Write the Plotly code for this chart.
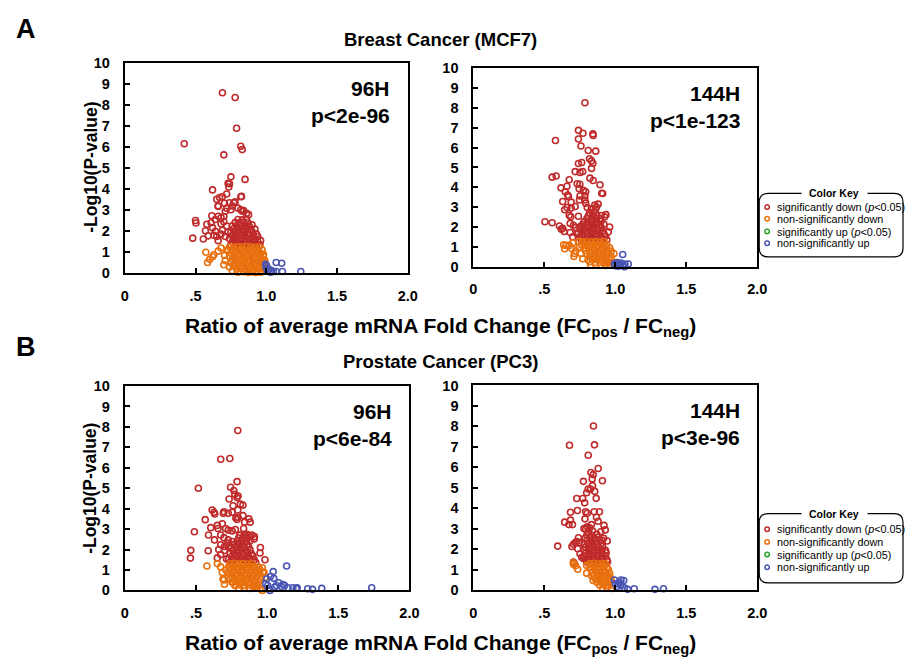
import plotly.graph_objects as go

W, H = 914, 667
FONT = "Liberation Sans, Arial, sans-serif"

# ---------------- data (x = ratio FCpos/FCneg, y = -log10 p) ----------------
A96_sig_down = [
    (0.42, 6.17), (0.69, 8.60), (0.78, 8.37), (0.79, 6.91), (0.82, 6.05), (0.83, 5.89), (0.70, 5.64),
    (0.75, 4.59), (0.85, 4.47), (0.73, 4.28), (0.735, 4.11), (0.74, 4.26), (0.62, 3.97), (0.82, 3.64),
    (0.825, 3.66), (0.72, 3.77), (0.65, 3.52), (0.67, 3.61), (0.69, 3.64), (0.77, 3.36), (0.78, 3.40),
    (0.74, 3.36), (0.705, 3.33), (0.66, 3.18), (0.66, 3.21), (0.82, 3.02), (0.84, 2.98), (0.83, 2.95),
    (0.71, 2.95), (0.75, 3.02), (0.875, 2.79), (0.615, 2.74), (0.66, 2.71), (0.50, 2.51), (0.503, 2.39),
    (0.58, 2.33), (0.61, 2.40), (0.64, 2.56), (0.68, 2.64), (0.48, 1.67), (0.555, 1.63), (0.59, 1.78),
    (0.63, 1.81), (0.65, 1.75), (0.68, 1.86), (0.57, 2.02), (0.62, 2.17), (0.77, 1.63), (0.91, 1.63),
    (0.93, 1.86), (0.92, 1.47), (0.70, 2.45), (0.72, 2.25), (0.69, 2.05), (0.71, 1.75), (0.66, 1.55),
    (0.73, 1.95), (0.68, 2.35), (0.64, 2.00), (0.70, 2.70), (0.72, 3.10), (0.76, 3.20), (0.80, 3.10),
    (0.86, 2.85), (0.90, 2.30), (0.92, 2.10), (0.94, 1.75), (0.96, 1.55),
    (0.75, 1.35), (0.78, 1.33), (0.81, 1.36), (0.84, 1.34), (0.87, 1.37), (0.90, 1.33), (0.93, 1.36),
    (0.955, 1.35), (0.76, 1.50), (0.79, 1.48), (0.82, 1.52), (0.85, 1.49), (0.88, 1.51), (0.91, 1.48),
    (0.94, 1.50), (0.74, 1.64), (0.77, 1.66), (0.80, 1.63), (0.83, 1.67), (0.86, 1.64), (0.89, 1.66),
    (0.92, 1.63), (0.76, 1.80), (0.79, 1.78), (0.82, 1.81), (0.85, 1.79), (0.88, 1.82), (0.91, 1.80),
    (0.75, 1.95), (0.78, 1.97), (0.81, 1.94), (0.84, 1.96), (0.87, 1.93), (0.90, 1.97), (0.77, 2.11),
    (0.80, 2.09), (0.83, 2.12), (0.86, 2.10), (0.89, 2.08), (0.76, 2.26), (0.79, 2.24), (0.82, 2.27),
    (0.85, 2.25), (0.88, 2.23), (0.78, 2.41), (0.81, 2.39), (0.84, 2.42), (0.87, 2.40), (0.80, 2.56),
    (0.83, 2.54), (0.86, 2.57),
]
A96_ns_down = [
    (0.573, 1.00), (0.585, 0.51), (0.62, 0.78), (0.60, 0.66), (0.63, 0.88), (0.70, 0.40), (0.705, 0.85),
    (0.82, 0.08), (0.89, 0.08), (0.66, 1.05), (0.68, 1.20), (0.72, 1.10), (0.71, 0.60), (0.74, 0.30),
    (0.76, 0.12), (0.98, 0.90), (0.99, 0.60), (0.97, 0.25), (0.93, 0.03),
    (0.74, 1.25), (0.77, 1.23), (0.80, 1.26), (0.83, 1.24), (0.86, 1.27), (0.89, 1.25), (0.92, 1.23),
    (0.95, 1.26), (0.73, 1.10), (0.76, 1.12), (0.79, 1.09), (0.82, 1.11), (0.85, 1.08), (0.88, 1.12),
    (0.91, 1.10), (0.94, 1.09), (0.97, 1.11), (0.75, 0.95), (0.78, 0.97), (0.81, 0.94), (0.84, 0.96),
    (0.87, 0.93), (0.90, 0.97), (0.93, 0.95), (0.96, 0.94), (0.74, 0.80), (0.77, 0.78), (0.80, 0.81),
    (0.83, 0.79), (0.86, 0.82), (0.89, 0.80), (0.92, 0.78), (0.95, 0.81), (0.98, 0.79), (0.76, 0.65),
    (0.79, 0.67), (0.82, 0.64), (0.85, 0.66), (0.88, 0.63), (0.91, 0.67), (0.94, 0.65), (0.97, 0.64),
    (0.75, 0.50), (0.78, 0.48), (0.81, 0.51), (0.84, 0.49), (0.87, 0.52), (0.90, 0.50), (0.93, 0.48),
    (0.96, 0.51), (0.985, 0.49), (0.77, 0.35), (0.80, 0.37), (0.83, 0.34), (0.86, 0.36), (0.89, 0.33),
    (0.92, 0.37), (0.95, 0.35), (0.98, 0.34), (0.79, 0.20), (0.82, 0.22), (0.85, 0.19), (0.88, 0.21),
    (0.91, 0.18), (0.94, 0.22), (0.97, 0.20), (0.80, 0.05), (0.84, 0.07), (0.87, 0.04), (0.90, 0.06),
    (0.93, 0.08), (0.96, 0.05),
]
A96_sig_up = []
A96_ns_up = [
    (0.995, 0.42), (1.002, 0.36), (1.019, 0.19), (1.037, 0.12), (1.07, 0.51), (1.109, 0.47), (1.07, 0.08),
    (1.114, 0.08), (1.244, 0.08), (1.01, 0.10), (1.03, 0.05), (1.05, 0.08), (1.00, 0.25),
]

A144_sig_down = [
    (0.786, 8.26), (0.74, 6.87), (0.772, 6.72), (0.842, 6.69), (0.844, 6.61), (0.578, 6.36), (0.74, 6.43),
    (0.758, 6.08), (0.809, 5.85), (0.862, 5.82), (0.818, 5.44), (0.832, 5.33), (0.842, 5.21), (0.74, 5.20),
    (0.763, 5.25), (0.717, 4.79), (0.751, 4.75), (0.77, 4.79), (0.832, 4.95), (0.555, 4.51), (0.583, 4.57),
    (0.675, 4.38), (0.821, 4.46), (0.731, 4.18), (0.75, 4.15), (0.844, 4.34), (0.617, 3.97), (0.659, 4.05),
    (0.647, 3.77), (0.892, 4.13), (0.745, 3.93), (0.775, 3.85), (0.791, 3.77), (0.904, 3.70), (0.911, 3.69),
    (0.664, 3.61), (0.67, 3.52), (0.751, 3.56), (0.786, 3.57), (0.747, 3.36), (0.629, 3.28), (0.689, 3.25),
    (0.659, 2.98), (0.786, 3.36), (0.791, 3.20), (0.802, 2.98), (0.855, 3.10), (0.879, 3.15), (0.867, 3.00),
    (0.643, 2.87), (0.689, 2.95), (0.717, 3.03), (0.675, 2.59), (0.686, 2.51), (0.74, 2.54), (0.934, 2.62),
    (0.925, 2.51), (0.504, 2.26), (0.555, 2.21), (0.606, 2.05), (0.62, 1.89), (0.64, 1.77), (0.629, 1.93),
    (0.682, 2.18), (0.705, 2.08), (0.682, 1.72), (0.721, 1.97), (0.758, 2.05), (0.728, 1.67), (0.70, 1.50),
    (0.95, 1.75), (0.96, 2.00),
    (0.76, 1.38), (0.79, 1.35), (0.82, 1.37), (0.85, 1.34), (0.88, 1.36), (0.91, 1.39), (0.94, 1.35),
    (0.75, 1.52), (0.78, 1.50), (0.81, 1.53), (0.84, 1.49), (0.87, 1.52), (0.90, 1.50), (0.93, 1.53),
    (0.74, 1.67), (0.77, 1.65), (0.80, 1.68), (0.83, 1.66), (0.86, 1.64), (0.89, 1.67), (0.92, 1.65),
    (0.76, 1.82), (0.79, 1.80), (0.82, 1.83), (0.85, 1.81), (0.88, 1.84), (0.91, 1.80), (0.75, 1.97),
    (0.78, 1.95), (0.81, 1.98), (0.84, 1.96), (0.87, 1.94), (0.90, 1.98), (0.77, 2.12), (0.80, 2.10),
    (0.83, 2.13), (0.86, 2.11), (0.89, 2.09), (0.92, 2.14), (0.78, 2.27), (0.81, 2.25), (0.84, 2.28),
    (0.87, 2.26), (0.90, 2.30), (0.80, 2.42), (0.83, 2.40), (0.86, 2.44), (0.89, 2.41), (0.81, 2.57),
    (0.84, 2.55), (0.87, 2.60), (0.90, 2.58), (0.82, 2.72), (0.85, 2.75), (0.83, 2.90), (0.86, 2.88),
]
A144_ns_down = [
    (0.636, 1.10), (0.652, 1.07), (0.643, 0.90), (0.675, 1.07), (0.694, 0.90), (0.708, 0.51), (0.712, 0.66),
    (0.745, 0.98), (0.758, 0.66), (0.745, 1.26), (0.821, 0.25), (0.826, 0.08), (0.809, 0.33), (0.994, 0.21),
    (0.99, 0.66), (0.70, 1.20), (0.72, 0.80), (0.77, 0.40), (0.96, 0.10),
    (0.77, 1.25), (0.80, 1.27), (0.83, 1.24), (0.86, 1.26), (0.89, 1.23), (0.92, 1.27), (0.76, 1.10),
    (0.79, 1.12), (0.82, 1.09), (0.85, 1.11), (0.88, 1.08), (0.91, 1.12), (0.94, 1.10), (0.78, 0.95),
    (0.81, 0.97), (0.84, 0.94), (0.87, 0.96), (0.90, 0.93), (0.93, 0.97), (0.96, 0.95), (0.79, 0.80),
    (0.82, 0.78), (0.85, 0.81), (0.88, 0.79), (0.91, 0.82), (0.94, 0.80), (0.97, 0.78), (0.80, 0.65),
    (0.83, 0.67), (0.86, 0.64), (0.89, 0.66), (0.92, 0.63), (0.95, 0.67), (0.82, 0.50), (0.85, 0.48),
    (0.88, 0.51), (0.91, 0.49), (0.94, 0.52), (0.97, 0.50), (0.84, 0.35), (0.87, 0.37), (0.90, 0.34),
    (0.93, 0.36), (0.96, 0.33), (0.86, 0.20), (0.89, 0.22), (0.92, 0.19), (0.95, 0.21), (0.98, 0.18),
    (0.90, 0.08), (0.93, 0.06), (0.96, 0.07),
]
A144_sig_up = []
A144_ns_up = [
    (1.052, 0.61), (0.994, 0.15), (1.013, 0.21), (1.029, 0.13), (1.04, 0.18), (1.052, 0.08), (1.064, 0.00),
    (1.068, 0.13), (1.091, 0.13), (1.034, 0.08), (1.00, 0.05), (1.02, 0.02),
]

B96_sig_down = [
    (0.794, 7.82), (0.674, 6.42), (0.738, 6.45), (0.517, 5.00), (0.789, 5.32), (0.743, 5.05), (0.766, 4.89),
    (0.773, 4.70), (0.796, 4.62), (0.733, 4.47), (0.789, 4.54), (0.812, 4.22), (0.83, 4.17), (0.761, 4.14),
    (0.794, 3.93), (0.754, 3.82), (0.727, 3.77), (0.614, 3.93), (0.627, 3.82), (0.632, 3.74), (0.697, 3.85),
    (0.692, 3.77), (0.83, 3.66), (0.78, 3.54), (0.796, 3.58), (0.789, 3.47), (0.872, 3.50), (0.881, 3.34),
    (0.842, 3.34), (0.565, 3.46), (0.489, 2.87), (0.604, 3.07), (0.65, 3.18), (0.655, 3.03), (0.685, 3.26),
    (0.708, 3.03), (0.727, 2.95), (0.754, 2.91), (0.777, 2.98), (0.835, 3.03), (0.807, 2.71), (0.858, 2.74),
    (0.893, 2.71), (0.588, 2.71), (0.63, 2.47), (0.674, 2.71), (0.697, 2.58), (0.911, 2.63), (0.909, 2.52),
    (0.727, 2.47), (0.754, 2.39), (0.464, 1.96), (0.461, 1.58), (0.586, 1.94), (0.674, 2.23), (0.701, 2.15),
    (0.729, 2.12), (0.953, 2.10), (0.95, 1.83), (0.985, 1.50), (0.65, 1.59), (0.674, 1.75), (0.715, 1.54),
    (0.70, 1.95), (0.66, 2.00), (0.72, 2.30),
    (0.74, 1.38), (0.77, 1.36), (0.80, 1.39), (0.83, 1.35), (0.86, 1.37), (0.89, 1.40), (0.92, 1.36),
    (0.73, 1.52), (0.76, 1.50), (0.79, 1.53), (0.82, 1.51), (0.85, 1.49), (0.88, 1.53), (0.91, 1.50),
    (0.75, 1.66), (0.78, 1.68), (0.81, 1.65), (0.84, 1.67), (0.87, 1.64), (0.90, 1.68), (0.74, 1.81),
    (0.77, 1.79), (0.80, 1.82), (0.83, 1.80), (0.86, 1.83), (0.89, 1.79), (0.76, 1.95), (0.79, 1.97),
    (0.82, 1.94), (0.85, 1.96), (0.88, 1.98), (0.75, 2.10), (0.78, 2.12), (0.81, 2.09), (0.84, 2.11),
    (0.87, 2.13), (0.77, 2.25), (0.80, 2.27), (0.83, 2.24), (0.86, 2.26), (0.79, 2.40), (0.82, 2.42),
    (0.85, 2.39), (0.88, 2.43), (0.80, 2.56), (0.83, 2.58), (0.86, 2.55), (0.81, 2.70), (0.84, 2.72),
    (0.87, 2.68),
]
B96_ns_down = [
    (0.577, 1.19), (0.65, 1.31), (0.674, 1.15), (0.685, 0.88), (0.69, 0.56), (0.697, 0.51), (0.727, 0.64),
    (0.754, 0.40), (0.773, 0.24), (0.835, 0.24), (0.904, 0.16), (0.927, 0.19), (0.967, 0.00), (0.978, 0.88),
    (0.99, 0.64), (0.967, 1.11), (0.71, 1.00), (0.70, 0.30),
    (0.74, 1.30), (0.77, 1.32), (0.80, 1.29), (0.83, 1.31), (0.86, 1.28), (0.89, 1.32), (0.73, 1.15),
    (0.76, 1.17), (0.79, 1.14), (0.82, 1.16), (0.85, 1.13), (0.88, 1.17), (0.91, 1.15), (0.94, 1.14),
    (0.74, 1.00), (0.77, 0.98), (0.80, 1.01), (0.83, 0.99), (0.86, 1.02), (0.89, 1.00), (0.92, 0.98),
    (0.95, 1.01), (0.73, 0.85), (0.76, 0.87), (0.79, 0.84), (0.82, 0.86), (0.85, 0.83), (0.88, 0.87),
    (0.91, 0.85), (0.94, 0.84), (0.97, 0.86), (0.75, 0.70), (0.78, 0.72), (0.81, 0.69), (0.84, 0.71),
    (0.87, 0.68), (0.90, 0.72), (0.93, 0.70), (0.96, 0.69), (0.74, 0.55), (0.77, 0.53), (0.80, 0.56),
    (0.83, 0.54), (0.86, 0.57), (0.89, 0.55), (0.92, 0.53), (0.95, 0.56), (0.76, 0.40), (0.79, 0.42),
    (0.82, 0.39), (0.85, 0.41), (0.88, 0.38), (0.91, 0.42), (0.94, 0.40), (0.78, 0.25), (0.81, 0.27),
    (0.84, 0.24), (0.87, 0.26), (0.90, 0.23), (0.93, 0.27), (0.80, 0.10), (0.84, 0.12), (0.88, 0.09),
    (0.92, 0.11), (0.95, 0.08),
]
B96_sig_up = []
B96_ns_up = [
    (1.043, 0.92), (1.024, 0.68), (1.047, 0.59), (0.997, 0.56), (1.004, 0.24), (1.02, 0.00), (0.99, 0.32),
    (1.082, 0.37), (1.112, 0.29), (1.123, 0.24), (1.137, 1.19), (1.10, 0.19), (1.147, 0.13), (1.181, 0.13),
    (1.204, 0.10), (1.211, 0.13), (1.285, 0.08), (1.319, 0.05), (1.384, 0.10), (1.735, 0.13), (1.054, 0.16),
    (1.066, 0.24), (1.008, 0.08),
]

B144_sig_down = [
    (0.846, 8.02), (0.677, 7.08), (0.853, 7.10), (0.809, 6.59), (0.879, 5.95), (0.828, 5.75), (0.844, 5.65),
    (0.837, 5.44), (0.909, 5.35), (0.775, 5.32), (0.809, 4.95), (0.825, 4.95), (0.839, 5.11), (0.855, 4.83),
    (0.798, 4.76), (0.728, 4.48), (0.77, 4.48), (0.784, 4.27), (0.865, 4.49), (0.684, 3.81), (0.733, 3.90),
    (0.791, 3.84), (0.802, 3.76), (0.851, 3.84), (0.888, 3.84), (0.786, 3.49), (0.867, 3.57), (0.879, 3.37),
    (0.643, 3.33), (0.684, 3.43), (0.673, 3.21), (0.698, 3.21), (0.92, 3.17), (0.929, 2.95), (0.779, 3.02),
    (0.802, 3.10), (0.832, 3.21), (0.897, 2.86), (0.918, 2.54), (0.909, 2.44), (0.943, 2.41), (0.74, 2.57),
    (0.728, 2.38), (0.745, 2.33), (0.594, 2.16), (0.694, 2.14), (0.705, 2.25), (0.717, 2.32), (0.735, 2.03),
    (0.751, 1.79), (0.763, 1.62), (0.775, 1.56), (0.798, 1.40), (0.705, 1.38), (0.71, 1.32),
    (0.80, 1.38), (0.83, 1.36), (0.86, 1.39), (0.89, 1.37), (0.92, 1.35), (0.945, 1.40), (0.79, 1.52),
    (0.82, 1.50), (0.85, 1.53), (0.88, 1.51), (0.91, 1.54), (0.94, 1.50), (0.78, 1.67), (0.81, 1.65),
    (0.84, 1.68), (0.87, 1.66), (0.90, 1.64), (0.93, 1.68), (0.79, 1.82), (0.82, 1.80), (0.85, 1.83),
    (0.88, 1.81), (0.91, 1.79), (0.935, 1.84), (0.78, 1.96), (0.81, 1.98), (0.84, 1.95), (0.87, 1.97),
    (0.90, 1.99), (0.93, 1.95), (0.79, 2.11), (0.82, 2.13), (0.85, 2.10), (0.88, 2.12), (0.91, 2.14),
    (0.78, 2.26), (0.81, 2.28), (0.84, 2.25), (0.87, 2.27), (0.90, 2.29), (0.80, 2.41), (0.83, 2.43),
    (0.86, 2.40), (0.89, 2.44), (0.79, 2.56), (0.82, 2.58), (0.85, 2.55), (0.88, 2.60), (0.80, 2.72),
    (0.83, 2.70), (0.87, 2.74), (0.81, 2.86), (0.84, 2.90), (0.79, 3.00), (0.82, 3.05),
]
B144_ns_down = [
    (0.705, 1.27), (0.735, 1.03), (0.798, 1.22), (0.798, 0.84), (0.832, 0.71), (0.844, 0.48), (0.909, 0.37),
    (0.705, 1.35), (0.72, 1.20),
    (0.82, 1.30), (0.85, 1.32), (0.88, 1.29), (0.91, 1.31), (0.93, 1.28), (0.82, 1.15), (0.85, 1.17),
    (0.88, 1.14), (0.91, 1.16), (0.94, 1.13), (0.83, 1.00), (0.86, 0.98), (0.89, 1.01), (0.92, 0.99),
    (0.95, 1.02), (0.84, 0.85), (0.87, 0.87), (0.90, 0.84), (0.93, 0.86), (0.96, 0.83), (0.85, 0.70),
    (0.88, 0.72), (0.91, 0.69), (0.94, 0.71), (0.96, 0.68), (0.86, 0.55), (0.89, 0.53), (0.92, 0.56),
    (0.95, 0.54), (0.97, 0.57), (0.87, 0.40), (0.90, 0.42), (0.93, 0.39), (0.96, 0.41), (0.89, 0.25),
    (0.92, 0.27), (0.95, 0.24), (0.98, 0.26), (0.91, 0.10), (0.94, 0.12), (0.97, 0.09),
]
B144_sig_up = []
B144_ns_up = [
    (0.994, 0.51), (1.001, 0.32), (1.017, 0.32), (1.029, 0.40), (1.04, 0.51), (1.059, 0.48), (1.04, 0.24),
    (1.064, 0.13), (1.087, 0.05), (1.133, 0.08), (1.279, 0.05), (1.339, 0.08), (1.013, 0.19),
]

CATEGORIES = ["significantly down (<i>p</i>&lt;0.05)", "non-significantly down",
              "significantly up (<i>p</i>&lt;0.05)", "non-significantly up"]
COLORS = ["#BF2A2A", "#E8700E", "#2DA52D", "#4A55B3"]

X_TICKVALS = [0, 0.5, 1.0, 1.5, 2.0]
X_TICKTEXT = ["0", ".5", "1.0", "1.5", "2.0"]
Y_TICKVALS = list(range(0, 11))

PANELS = [
    dict(series=[A96_sig_down, A96_ns_down, A96_sig_up, A96_ns_up], time="96H", p="p&lt;2e-96"),
    dict(series=[A144_sig_down, A144_ns_down, A144_sig_up, A144_ns_up], time="144H", p="p&lt;1e-123"),
    dict(series=[B96_sig_down, B96_ns_down, B96_sig_up, B96_ns_up], time="96H", p="p&lt;6e-84"),
    dict(series=[B144_sig_down, B144_ns_down, B144_sig_up, B144_ns_up], time="144H", p="p&lt;3e-96"),
]

# ---------------- layout geometry (pixels) ----------------
PANEL_BOX = [  # left, right, top, bottom
    (122.7, 410.0, 56.7, 271.7),
    (476.7, 765.0, 61.7, 265.0),
    (122.7, 411.7, 387.3, 596.7),
    (476.7, 765.0, 386.7, 596.7),
]


def px(x):
    return x / W


def py(y):
    return 1 - y / H


fig = go.Figure()
layout = dict(
    width=W, height=H, margin=dict(l=0, r=0, t=0, b=0), autosize=False,
    paper_bgcolor="white", plot_bgcolor="white", showlegend=False,
    font=dict(family=FONT, color="black"),
)

annotations = []
for i, panel in enumerate(PANELS):
    sfx = "" if i == 0 else str(i + 1)
    l, r, t, b = PANEL_BOX[i]
    layout["xaxis" + sfx] = dict(
        domain=[px(l), px(r)], range=[0, 2], anchor="y" + sfx,
        tickvals=X_TICKVALS, ticktext=X_TICKTEXT, ticks="inside", ticklen=5, tickwidth=1.5,
        tickcolor="black", showline=True, linecolor="black", linewidth=2, mirror=True,
        showgrid=False, zeroline=False, ticklabelstandoff=8,
        tickfont=dict(family=FONT, size=14.5, weight="bold", color="black"),
    )
    layout["yaxis" + sfx] = dict(
        domain=[py(b), py(t)], range=[0, 10], anchor="x" + sfx,
        tickvals=Y_TICKVALS, ticks="inside", ticklen=5, tickwidth=1.5,
        tickcolor="black", showline=True, linecolor="black", linewidth=2, mirror=True,
        showgrid=False, zeroline=False, ticklabelstandoff=10,
        tickfont=dict(family=FONT, size=14.5, weight="bold", color="black"),
    )
    for cat, color, pts in zip(CATEGORIES, COLORS, panel["series"]):
        xs = [p[0] for p in pts]
        ys = [p[1] for p in pts]
        fig.add_trace(go.Scatter(
            x=xs, y=ys, mode="markers", name=cat, xaxis="x" + sfx, yaxis="y" + sfx,
            marker=dict(symbol="circle-open", size=6, color=color, line=dict(width=1.6, color=color)),
            cliponaxis=False,
        ))
    annotations.append(dict(x=px(r - 16), y=py(t + 26), xref="paper", yref="paper",
                            text=panel["time"], showarrow=False, xanchor="right", yanchor="middle",
                            font=dict(family=FONT, size=21, weight="bold")))
    annotations.append(dict(x=px(r - 16), y=py(t + 53.5), xref="paper", yref="paper",
                            text=panel["p"], showarrow=False, xanchor="right", yanchor="middle",
                            font=dict(family=FONT, size=21, weight="bold")))

# section letters, titles, axis titles
for letter, ly, title, ty, ytitle_y, xtitle_y in [
    ("A", 22, "Breast Cancer (MCF7)", 32, 163, 327),
    ("B", 347, "Prostate Cancer (PC3)", 362, 492, 652),
]:
    annotations.append(dict(x=px(10), y=py(ly), xref="paper", yref="paper", text=letter,
                            showarrow=False, xanchor="left", yanchor="middle",
                            font=dict(family=FONT, size=27, weight="bold")))
    annotations.append(dict(x=px(443), y=py(ty), xref="paper", yref="paper", text=title,
                            showarrow=False, xanchor="center", yanchor="middle",
                            font=dict(family=FONT, size=18.5, weight="bold")))
    annotations.append(dict(x=px(88), y=py(ytitle_y), xref="paper", yref="paper",
                            text="-Log10(P-value)", textangle=-90, showarrow=False,
                            xanchor="center", yanchor="middle",
                            font=dict(family=FONT, size=17.5, weight="bold")))
    annotations.append(dict(x=px(443), y=py(xtitle_y), xref="paper", yref="paper",
                            text="Ratio of average mRNA Fold Change (FC<sub>pos</sub> / FC<sub>neg</sub>)",
                            showarrow=False, xanchor="center", yanchor="middle",
                            font=dict(family=FONT, size=21, weight="bold")))

# colour keys (custom rounded box)
shapes = []
for top, bottom, entry_y in [(190, 255, [204, 216, 229, 241]), (518, 589, [534, 547, 560, 573])]:
    left, right, rad = 767, 913, 9
    gap_l, gap_r = 810, 877
    path = (f"M {px(gap_l)},{py(top)} L {px(left + rad)},{py(top)} "
            f"Q {px(left)},{py(top)} {px(left)},{py(top + rad)} "
            f"L {px(left)},{py(bottom - rad)} Q {px(left)},{py(bottom)} {px(left + rad)},{py(bottom)} "
            f"L {px(right - rad)},{py(bottom)} Q {px(right)},{py(bottom)} {px(right)},{py(bottom - rad)} "
            f"L {px(right)},{py(top + rad)} Q {px(right)},{py(top)} {px(right - rad)},{py(top)} "
            f"L {px(gap_r)},{py(top)}")
    shapes.append(dict(type="path", xref="paper", yref="paper", path=path,
                       line=dict(color="black", width=1.2)))
    annotations.append(dict(x=px(843), y=py(top), xref="paper", yref="paper", text="Color Key",
                            showarrow=False, xanchor="center", yanchor="middle",
                            font=dict(family=FONT, size=10.5, weight="bold")))
    for cat, color, ey in zip(CATEGORIES, COLORS, entry_y):
        shapes.append(dict(type="circle", xref="paper", yref="paper",
                           x0=px(772.7), x1=px(777.3), y0=py(ey + 2.3), y1=py(ey - 2.3),
                           line=dict(color=color, width=1.5)))
        annotations.append(dict(x=px(783), y=py(ey), xref="paper", yref="paper", text=cat,
                                showarrow=False, xanchor="left", yanchor="middle",
                                font=dict(family=FONT, size=10.8)))

layout["annotations"] = annotations
layout["shapes"] = shapes
fig.update_layout(**layout)

PAGE_FIX = ("document.documentElement.style.margin='0';document.documentElement.style.padding='0';"
            "document.documentElement.style.overflow='hidden';"
            "document.body.style.margin='0';document.body.style.padding='0';"
            "document.body.style.overflow='hidden';")
fig.write_html("out.html", config={"displayModeBar": False, "responsive": False},
               post_script=PAGE_FIX)
